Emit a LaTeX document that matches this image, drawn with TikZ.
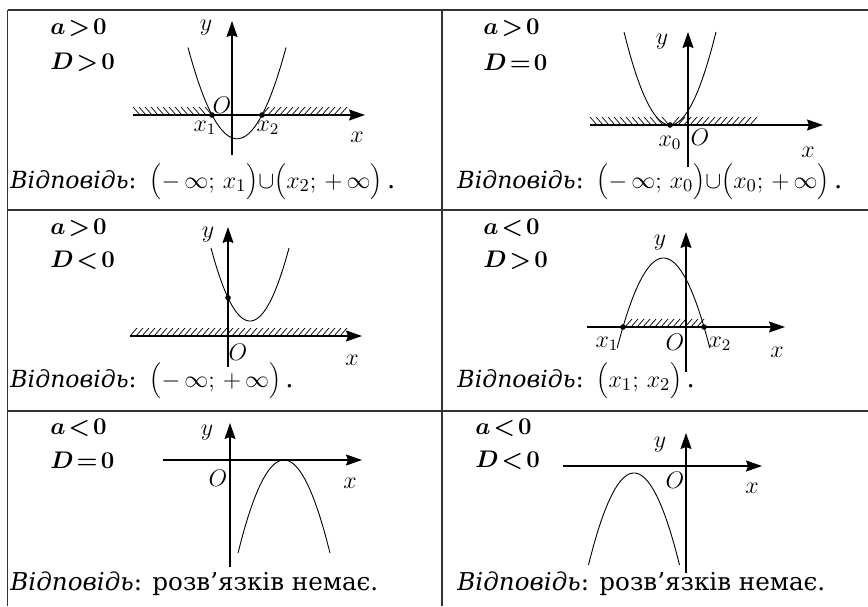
\documentclass[tikz,border=0pt]{standalone}
\usepackage{fontspec}
\setmainfont{DejaVu Serif}
\usetikzlibrary{arrows.meta,positioning}
\newcommand{\rel}[1]{\mkern2mu{#1}\mkern2mu}
\newcommand{\vidp}{{\fontsize{11.8}{14}\selectfont\textit{Відповідь}:}}

\begin{document}
\begin{tikzpicture}[
  x=0.5pt,y=-0.5pt,
  every node/.style={font=\fontsize{12}{14}\selectfont,inner sep=0pt},
  grid/.style={line width=0.8pt,draw=black!80},
  axis/.style={line width=0.65pt,-{Stealth[length=8pt,width=5.5pt,inset=1pt]}},
  curve/.style={line width=0.45pt},
  hatch/.style={line width=0.35pt},
  dot/.style={circle,fill,inner sep=0pt,minimum size=2.8pt},
  cond/.style={anchor=west,font=\fontsize{12.5}{14}\selectfont\boldmath},
  answer/.style={anchor=base west,font=\fontsize{13}{15}\selectfont},
]
  \useasboundingbox (0,0) rectangle (868,606);

  % table
  \draw[grid] (7.5,10) -- (868,10);
  \draw[grid] (7.5,210) -- (868,210);
  \draw[grid] (7.5,411) -- (868,411);
  \draw[grid] (7.5,10) -- (7.5,606);
  \draw[grid] (442,10) -- (442,606);

  % a>0, D>0
  \node[cond] (c1a) at (50,28) {$a\rel>0$};
  \node[cond] (c1d) at (50,62) {$D\rel>0$};
  \foreach \i in {133,139,...,205} \draw[hatch] (\i,107) -- (\i+7,115);
  \foreach \i in {262,268,...,340} \draw[hatch] (\i,115) -- (\i+7,107);
  \draw[axis] (133,115) -- (365,115);
  \draw[axis] (232,155) -- (232,21);
  \draw[curve] plot[domain=-49:49,samples=60] ({237+\x},{138.75-0.038*\x*\x});
  \node[dot] (p11) at (212,115) {};
  \node[dot] (p12) at (262,115) {};
  \node (y1) at (206,28) {$y$};
  \node (x1) at (357,137) {$x$};
  \node (o1) at (222,105) {$O$};
  \node (r11) at (205,128) {$x_1$};
  \node (r12) at (268,128) {$x_2$};
  \node[answer] (ans1) at (10,188)
    {\vidp\enspace$\Bigl(-\,\infty;\,x_1\Bigr){\cup}\Bigl(x_2;\,+\,\infty\Bigr)$\,.};

  % a>0, D=0
  \node[cond] (c2a) at (483,28) {$a\rel>0$};
  \node[cond] (c2d) at (483,62) {$D\rel=0$};
  \foreach \i in {590,596,...,662} \draw[hatch] (\i,117) -- (\i+7,125);
  \foreach \i in {672,678,...,752} \draw[hatch] (\i,125) -- (\i+7,117);
  \draw[axis] (590,125) -- (823,125);
  \draw[axis] (688,167) -- (688,32);
  \draw[curve] plot[domain=-46:46,samples=60] ({670+\x},{125-0.044*\x*\x});
  \node[dot] (p2) at (670,125) {};
  \node (y2) at (662,42) {$y$};
  \node (x2) at (808,152) {$x$};
  \node (o2) at (700,137) {$O$};
  \node (r2) at (670,143) {$x_0$};
  \node[answer] (ans2) at (457,188)
    {\vidp\enspace$\Bigl(-\,\infty;\,x_0\Bigr){\cup}\Bigl(x_0;\,+\,\infty\Bigr)$\,.};

  % a>0, D<0
  \node[cond] (c3a) at (50,228) {$a\rel>0$};
  \node[cond] (c3d) at (50,260) {$D\rel<0$};
  \foreach \i in {130,136,...,340} \draw[hatch] (\i,336) -- (\i+7,328);
  \draw[axis] (130,336) -- (362,336);
  \draw[axis] (228,367) -- (228,227);
  \draw[curve] plot[domain=-39:39,samples=60] ({250+\x},{321-0.048*\x*\x});
  \node[dot] (p3) at (228,297.8) {};
  \node (y3) at (208,235) {$y$};
  \node (x3) at (352,360) {$x$};
  \node (o3) at (238,352) {$O$};
  \node[answer] (ans3) at (10,387)
    {\vidp\enspace$\Bigl(-\,\infty;\,+\,\infty\Bigr)$\,.};

  % a<0, D>0
  \node[cond] (c4a) at (483,228) {$a\rel<0$};
  \node[cond] (c4d) at (483,260) {$D\rel>0$};
  \foreach \i in {625,631,...,697} \draw[hatch] (\i,327) -- (\i+7,319);
  \draw[axis] (587,327) -- (785,327);
  \draw[axis] (686,372) -- (686,232);
  \draw[curve] plot[domain=-46.3:46.3,samples=60] ({663.5+\x},{258+0.042*\x*\x});
  \node[dot] (p41) at (623,327) {};
  \node[dot] (p42) at (704,327) {};
  \node (y4) at (660,243) {$y$};
  \node (x4) at (777,352) {$x$};
  \node (o4) at (675,342) {$O$};
  \node (r41) at (607,344) {$x_1$};
  \node (r42) at (720,344) {$x_2$};
  \node[answer] (ans4) at (457,387)
    {\vidp\enspace$\Bigl(x_1;\,x_2\Bigr)$\,.};

  % a<0, D=0
  \node[cond] (c5a) at (50,428) {$a\rel<0$};
  \node[cond] (c5d) at (50,460) {$D\rel=0$};
  \draw[axis] (163,460) -- (362,460);
  \draw[axis] (230,567) -- (230,423);
  \draw[curve] plot[domain=-46:46,samples=60] ({284+\x},{460+0.044*\x*\x});
  \node (y5) at (207,433) {$y$};
  \node (x5) at (350,483) {$x$};
  \node (o5) at (218,478) {$O$};
  \node[answer,font=\fontsize{12.3}{15}\selectfont] (ans5) at (10,590)
    {\textit{Відповідь}: розв’язків немає.};

  % a<0, D<0
  \node[cond] (c6a) at (475,428) {$a\rel<0$};
  \node[cond] (c6d) at (475,460) {$D\rel<0$};
  \draw[axis] (563,466) -- (762,466);
  \draw[axis] (686,573) -- (686,433);
  \draw[curve] plot[domain=-45.5:45.5,samples=60] ({634+\x},{473+0.0444*\x*\x});
  \node (y6) at (660,445) {$y$};
  \node (x6) at (752,488) {$x$};
  \node (o6) at (675,480) {$O$};
  \node[answer,font=\fontsize{12.3}{15}\selectfont] (ans6) at (457,590)
    {\textit{Відповідь}: розв’язків немає.};
\end{tikzpicture}
\end{document}
